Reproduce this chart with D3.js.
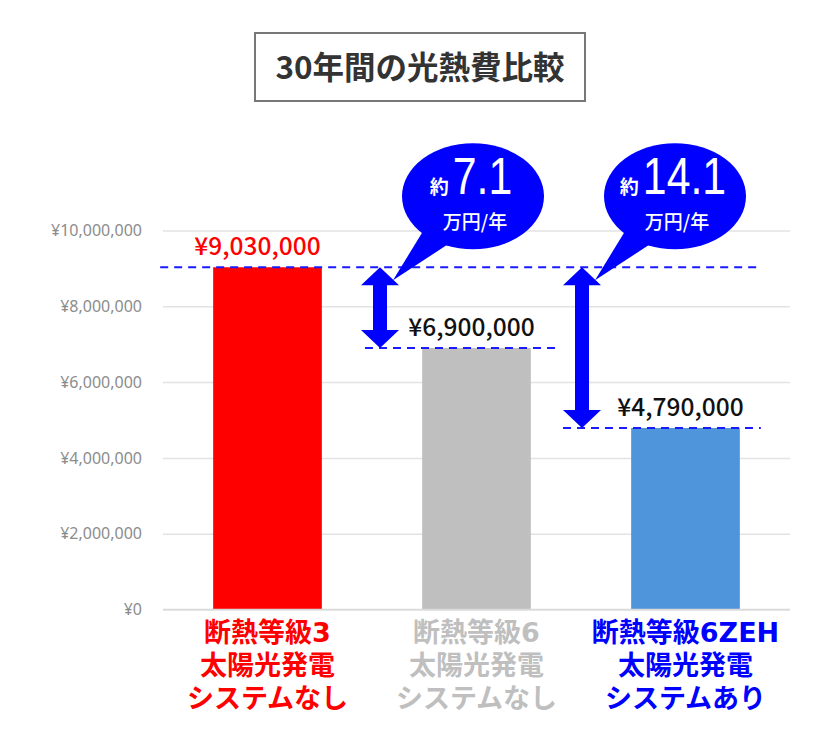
<!DOCTYPE html>
<html>
<head>
<meta charset="utf-8">
<script src="https://cdn.jsdelivr.net/npm/d3@7"></script>
<style>
  body { margin: 0; background: #fff; }
  text { font-family: "Noto Sans CJK JP", "Noto Sans", sans-serif; }
</style>
</head>
<body>
<script>
// chart data
const title = "30年間の光熱費比較";
const categories = [
    ["断熱等級3", "太陽光発電", "システムなし"],
    ["断熱等級6", "太陽光発電", "システムなし"],
    ["断熱等級6ZEH", "太陽光発電", "システムあり"]
];
const costs = [9030000, 6900000, 4790000];
const yTicks = [0, 2000000, 4000000, 6000000, 8000000, 10000000];
const savings = ["7.1", "14.1"];   // 万円/年, vs. first bar

// styles
const barColors = ["#ff0000", "#bfbfbf", "#4f95db"];
const catColors = ["#ff0000", "#bfbfbf", "#0000ff"];
const valueColors = ["#ff0000", "#111", "#111"];
const blue = "#0000ff";

let w = 840, h = 756;
let svg = d3.select("body").append("svg")
    .attr("width", w)
    .attr("height", h);

// title box
svg.append("rect")
    .attr("x", 255).attr("y", 33)
    .attr("width", 330).attr("height", 68)
    .attr("fill", "#fff")
    .attr("stroke", "#777")
    .attr("stroke-width", 2);
svg.append("text")
    .attr("x", 420).attr("y", 79)
    .attr("text-anchor", "middle")
    .style("font-size", "31.5px")
    .style("font-weight", "bold")
    .attr("fill", "#333")
    .text(title);

// scales
let x = d3.scaleBand()
    .domain(d3.range(categories.length))
    .range([163, 790])
    .paddingInner(0.48)
    .paddingOuter(0.24);

let y = d3.scaleLinear()
    .domain([0, 10000000])
    .range([609.5, 230.5]);

// y axis with gridlines
let yAxis = svg.append("g")
    .attr("transform", "translate(163,0)")
    .call(d3.axisLeft(y)
        .tickValues(yTicks)
        .tickSize(-(790 - 163))
        .tickPadding(21)
        .tickFormat(d => "¥" + d3.format(",")(d)));
yAxis.select(".domain").remove();
yAxis.selectAll(".tick line")
    .attr("stroke", "#e3e3e3")
    .attr("stroke-width", 1.5);
yAxis.selectAll(".tick text")
    .attr("fill", "#8c8c8c")
    .style("font-family", "'Noto Sans', sans-serif")
    .style("font-size", "16px");

// bars
svg.selectAll("rect.bar")
    .data(costs)
    .enter()
    .append("rect")
    .attr("class", "bar")
    .attr("x", (d, i) => x(i))
    .attr("y", d => y(d))
    .attr("width", x.bandwidth())
    .attr("height", d => y(0) - y(d))
    .attr("fill", (d, i) => barColors[i]);

// bottom line
svg.append("line")
    .attr("x1", 163).attr("x2", 790)
    .attr("y1", y(0)).attr("y2", y(0))
    .attr("stroke", "#d9d9d9")
    .attr("stroke-width", 1.5);

// arrow positions between bars
let arrowX = [x(1) - x.step() * 0.24 + 8, x(2) - x.step() * 0.24 + 1];

// dashed reference lines
let dashes = [
    [x(0) - 53, x(2) + x.bandwidth() + 21, costs[0]],
    [arrowX[0] - 15, x(1) + x.bandwidth() + 28, costs[1]],
    [arrowX[1] - 19, x(2) + x.bandwidth() + 21, costs[2]]
];
svg.selectAll("line.dash")
    .data(dashes)
    .enter()
    .append("line")
    .attr("class", "dash")
    .attr("x1", d => d[0])
    .attr("x2", d => d[1])
    .attr("y1", d => y(d[2]))
    .attr("y2", d => y(d[2]))
    .attr("stroke", "#1a1aff")
    .attr("stroke-width", 2)
    .attr("stroke-dasharray", "8,6");

// value labels
svg.selectAll("text.value")
    .data(costs)
    .enter()
    .append("text")
    .attr("class", "value")
    .attr("x", (d, i) => x(i) + x.bandwidth() / 2 - (i ? 5 : 10))
    .attr("y", d => y(d) - 12)
    .attr("text-anchor", "middle")
    .style("font-size", "24.5px")
    .style("font-weight", "500")
    .attr("fill", (d, i) => valueColors[i])
    .text(d => "¥" + d3.format(",")(d));

// double arrows
function arrowPath(cx, y1, y2) {
    let sw = 7, hw = 19, hl = 18;
    return "M" + cx + "," + y1 +
        "L" + (cx + hw) + "," + (y1 + hl) +
        "L" + (cx + sw) + "," + (y1 + hl) +
        "L" + (cx + sw) + "," + (y2 - hl) +
        "L" + (cx + hw) + "," + (y2 - hl) +
        "L" + cx + "," + y2 +
        "L" + (cx - hw) + "," + (y2 - hl) +
        "L" + (cx - sw) + "," + (y2 - hl) +
        "L" + (cx - sw) + "," + (y1 + hl) +
        "L" + (cx - hw) + "," + (y1 + hl) + "Z";
}
svg.selectAll("path.arrow")
    .data(savings)
    .enter()
    .append("path")
    .attr("class", "arrow")
    .attr("d", (d, i) => arrowPath(arrowX[i], y(costs[0]), y(costs[i + 1])))
    .attr("fill", blue);

// speech bubbles
savings.forEach(function(s, i) {
    let cx = arrowX[i] + 93;
    let cy = y(costs[0]) - 71;
    let tipX = arrowX[i] + 13, tipY = y(costs[0]) + 13;
    let g = svg.append("g");
    g.append("path")
        .attr("d", "M" + (cx - 50) + "," + (cy + 35) +
            "L" + tipX + "," + tipY +
            "L" + (cx - 25) + "," + (cy + 48) + "Z")
        .attr("fill", blue);
    g.append("ellipse")
        .attr("cx", cx).attr("cy", cy)
        .attr("rx", 71).attr("ry", 53)
        .attr("fill", blue);

    // 約 + number
    let t = g.append("g");
    t.append("text")
        .attr("x", 0).attr("y", 0)
        .attr("fill", "#fff")
        .style("font-size", "19px")
        .style("font-weight", "bold")
        .text("約");
    t.append("text")
        .attr("transform", "translate(23,0) scale(0.84,1)")
        .attr("fill", "#fff")
        .style("font-family", "'Liberation Sans', Arial, sans-serif")
        .style("font-size", "51px")
        .text(s);
    let bb = t.node().getBBox();
    t.attr("transform", "translate(" + (cx - 2 - bb.width / 2) + "," + (cy - 2) + ")");

    g.append("text")
        .attr("x", cx + 2).attr("y", cy + 33)
        .attr("text-anchor", "middle")
        .attr("fill", "#fff")
        .style("font-size", "19px")
        .style("font-weight", "500")
        .text("万円/年");
});

// category labels
categories.forEach(function(lines, i) {
    svg.append("text")
        .attr("text-anchor", "middle")
        .attr("fill", catColors[i])
        .style("font-family", "'DejaVu Sans', 'Noto Sans CJK JP', sans-serif")
        .style("font-size", "27px")
        .style("font-weight", "bold")
        .selectAll("tspan")
        .data(lines)
        .enter()
        .append("tspan")
        .attr("x", x(i) + x.bandwidth() / 2)
        .attr("y", (d, j) => 642 + j * 33)
        .text(d => d);
});
</script>
</body>
</html>
